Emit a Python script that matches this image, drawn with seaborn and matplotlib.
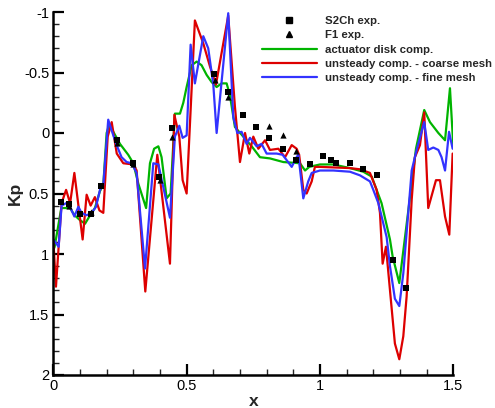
import numpy as np
import pandas as pd
import matplotlib
matplotlib.use("Agg")
import matplotlib.pyplot as plt
from matplotlib.lines import Line2D
from matplotlib.ticker import MultipleLocator, FuncFormatter
import seaborn as sns

# Pressure coefficient distributions along x
green_x = [0.0, 0.005, 0.03, 0.0375, 0.0625, 0.08, 0.1, 0.119, 0.138, 0.156, 0.175, 0.1875, 0.2, 0.21,
           0.225, 0.25, 0.281, 0.30, 0.319, 0.348, 0.3625, 0.378, 0.394, 0.406, 0.425, 0.44, 0.456,
           0.475, 0.4875, 0.50, 0.519, 0.5375, 0.556, 0.575, 0.594, 0.6125, 0.631, 0.65, 0.6625,
           0.681, 0.7125, 0.744, 0.775, 0.8125, 0.8625, 0.925, 0.944, 0.96, 1.0, 1.05, 1.1125,
           1.1625, 1.194, 1.2125, 1.231, 1.2625, 1.2725, 1.2975, 1.35, 1.36, 1.391, 1.4125, 1.444,
           1.469, 1.4875, 1.5]
green_kp = [0.97, 0.94, 0.62, 0.62, 0.62, 0.68, 0.72, 0.75, 0.68, 0.62, 0.48, 0.43, 0.0, -0.07,
            -0.01, 0.09, 0.18, 0.25, 0.42, 0.62, 0.25, 0.13, 0.11, 0.20, 0.54, 0.50, -0.16,
            -0.16, -0.25, -0.38, -0.56, -0.59, -0.56, -0.48, -0.42, -0.38, -0.41, -0.41, -0.31,
            -0.05, 0.03, 0.11, 0.20, 0.21, 0.24, 0.25, 0.31, 0.28, 0.26, 0.26, 0.29,
            0.32, 0.36, 0.47, 0.58, 0.88, 1.02, 1.24, 0.31, 0.13, -0.19, -0.09, 0.0,
            0.06, -0.37, 0.11]

red_x = [0.0, 0.01, 0.031, 0.048, 0.063, 0.079, 0.11, 0.125, 0.14, 0.156, 0.173, 0.1875, 0.204,
         0.219, 0.238, 0.2625, 0.30, 0.3125, 0.345, 0.39, 0.4375, 0.454, 0.4725, 0.485, 0.50,
         0.531, 0.5625, 0.5875, 0.61, 0.656, 0.681, 0.70, 0.719, 0.735, 0.75, 0.769, 0.794,
         0.8125, 0.844, 0.869, 0.894, 0.9125, 0.922, 0.9375, 0.95, 0.969, 0.981, 1.0, 1.1125,
         1.15, 1.1875, 1.2, 1.2125, 1.225, 1.235, 1.2475, 1.281, 1.2975, 1.3125, 1.325, 1.344,
         1.356, 1.375, 1.391, 1.406, 1.435, 1.45, 1.469, 1.485, 1.4975]
red_kp = [0.88, 1.27, 0.58, 0.47, 0.58, 0.33, 0.88, 0.51, 0.60, 0.53, 0.64, 0.66, 0.03,
          -0.09, 0.17, 0.25, 0.26, 0.31, 1.31, 0.18, 1.08, -0.15, 0.03, 0.39, 0.50,
          -0.93, -0.74, -0.55, -0.40, -0.97, -0.22, 0.24, 0.0, 0.17, 0.03, 0.13, 0.06,
          0.14, 0.13, 0.20, 0.10, 0.13, 0.18, 0.47, 0.50, 0.40, 0.28, 0.28, 0.29,
          0.30, 0.33, 0.40, 0.47, 0.66, 1.08, 0.94, 1.74, 1.87, 1.68, 1.35, 0.55,
          0.20, 0.10, -0.17, 0.62, 0.39, 0.39, 0.69, 0.84, 0.17]

blue_x = [0.0, 0.02, 0.031, 0.048, 0.0625, 0.079, 0.094, 0.106, 0.125, 0.144, 0.16, 0.175, 0.1875,
          0.206, 0.219, 0.2375, 0.256, 0.275, 0.294, 0.3125, 0.344, 0.375, 0.394, 0.4375, 0.456,
          0.4725, 0.485, 0.50, 0.515, 0.531, 0.5625, 0.581, 0.60, 0.6125, 0.656, 0.675, 0.69,
          0.706, 0.725, 0.7375, 0.7625, 0.781, 0.80, 0.8375, 0.86, 0.894, 0.9125, 0.919, 0.9375,
          0.956, 0.969, 1.0, 1.05, 1.1125, 1.15, 1.1875, 1.2, 1.219, 1.25, 1.2625, 1.281, 1.2975,
          1.3125, 1.344, 1.3625, 1.391, 1.406, 1.425, 1.444, 1.456, 1.469, 1.484, 1.4975]
blue_kp = [0.88, 0.94, 0.60, 0.58, 0.61, 0.69, 0.61, 0.66, 0.68, 0.66, 0.61, 0.47, 0.43,
           -0.11, -0.02, 0.10, 0.20, 0.24, 0.25, 0.33, 1.12, 0.25, 0.26, 0.70, 0.03,
           -0.06, 0.04, 0.02, -0.73, -0.41, -0.80, -0.70, -0.40, 0.0, -0.99, -0.13, 0.0,
           -0.01, 0.09, 0.04, 0.11, 0.09, 0.17, 0.17, 0.18, 0.28, 0.20, 0.18, 0.54,
           0.40, 0.33, 0.31, 0.31, 0.32, 0.35, 0.40, 0.47, 0.58, 0.86, 1.10, 1.37, 1.43,
           1.16, 0.31, 0.14, -0.09, 0.14, 0.12, 0.14, 0.20, 0.31, -0.01, 0.13]

# Wind tunnel measurements
s2ch_x = [0.028, 0.06, 0.10, 0.14, 0.179, 0.24, 0.30, 0.398, 0.444, 0.6025, 0.656, 0.7125, 0.76,
          0.809, 0.86, 0.909, 0.9625, 1.01, 1.04, 1.06, 1.1125, 1.16, 1.2125, 1.275, 1.3225]
s2ch_kp = [0.57, 0.59, 0.67, 0.67, 0.44, 0.06, 0.25, 0.36, -0.04, -0.49, -0.34, -0.15, -0.05,
           0.04, 0.13, 0.22, 0.26, 0.19, 0.22, 0.25, 0.25, 0.30, 0.35, 1.05, 1.28]
f1_x = [0.06, 0.14, 0.24, 0.30, 0.40, 0.445, 0.605, 0.656, 0.81, 0.86, 0.909]
f1_kp = [0.60, 0.65, 0.08, 0.26, 0.39, 0.03, -0.44, -0.30, -0.06, 0.02, 0.15]

labels = ["S2Ch exp.", "F1 exp.", "actuator disk comp.",
          "unsteady comp. - coarse mesh", "unsteady comp. - fine mesh"]
colors = {"green": "#00b400", "red": "#dd0000", "blue": "#3333ff"}

sns.set_style("ticks")
plt.rcParams["font.family"] = ["Liberation Sans", "DejaVu Sans"]

fig = plt.figure(figsize=(4.95, 4.08), dpi=100)
ax = fig.add_axes([53.3 / 495, 33 / 408, 400 / 495, 363 / 408])

for xs, ys, c in [(green_x, green_kp, colors["green"]),
                  (red_x, red_kp, colors["red"]),
                  (blue_x, blue_kp, colors["blue"])]:
    df = pd.DataFrame({"x": xs, "kp": ys})
    sns.lineplot(data=df, x="x", y="kp", sort=False, estimator=None, color=c,
                 linewidth=1.6, ax=ax, zorder=2)

sns.scatterplot(x=s2ch_x, y=s2ch_kp, marker="s", color="black", s=20, linewidth=0,
                ax=ax, zorder=3)
sns.scatterplot(x=f1_x, y=f1_kp, marker="^", color="black", s=20, linewidth=0,
                ax=ax, zorder=3)

ax.set_xlim(0, 1.5)
ax.set_ylim(2, -1)
ax.xaxis.set_major_locator(MultipleLocator(0.5))
ax.xaxis.set_minor_locator(MultipleLocator(0.1))
ax.yaxis.set_major_locator(MultipleLocator(0.5))
ax.yaxis.set_minor_locator(MultipleLocator(0.1))
ax.xaxis.set_major_formatter(FuncFormatter(lambda v, p: f"{v:g}"))
ax.yaxis.set_major_formatter(FuncFormatter(lambda v, p: f"{v:g}"))
ax.tick_params(which="major", direction="in", length=8, width=1.6, labelsize=10.5, pad=3,
               colors="black")
ax.tick_params(which="minor", direction="in", length=4.5, width=1.0)
for side in ["top", "right"]:
    ax.spines[side].set_visible(False)
for side in ["left", "bottom"]:
    ax.spines[side].set_linewidth(1.8)
    ax.spines[side].set_color("black")

ax.set_xlabel("x", fontsize=12.5, fontweight="bold")
ax.set_ylabel("Kp", fontsize=12.5, fontweight="bold")
ax.xaxis.set_label_coords(0.5, -(401 - 375) / 363)
ax.xaxis.label.set_va("center")
ax.yaxis.set_label_coords(-(53.3 - 15) / 400, 0.5)
ax.yaxis.label.set_va("center")

handles = [
    Line2D([], [], marker="s", color="black", linestyle="none", markersize=4.5),
    Line2D([], [], marker="^", color="black", linestyle="none", markersize=5),
    Line2D([], [], color=colors["green"], linewidth=1.6),
    Line2D([], [], color=colors["red"], linewidth=1.6),
    Line2D([], [], color=colors["blue"], linewidth=1.6),
]
leg = ax.legend(handles, labels, loc="upper left", bbox_to_anchor=(262 / 495, 1 - 16 / 408),
                bbox_transform=fig.transFigure, frameon=False, fontsize=8.2,
                handlelength=4.8, handletextpad=0.75, labelspacing=0.38,
                borderpad=0, borderaxespad=0)
for t in leg.get_texts():
    t.set_fontweight("bold")

fig.savefig("out.png", dpi=100)
